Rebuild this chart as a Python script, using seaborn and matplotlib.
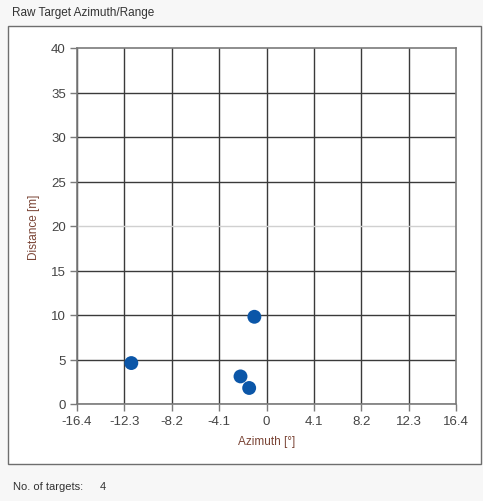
import matplotlib
matplotlib.use("Agg")
import matplotlib.pyplot as plt
import seaborn as sns
import pandas as pd
from matplotlib.patches import Rectangle

# target positions
azimuth = [-11.7, -1.05, -2.25, -1.5]
distance = [4.6, 9.8, 3.1, 1.8]
x_ticks = [-16.4, -12.3, -8.2, -4.1, 0, 4.1, 8.2, 12.3, 16.4]
x_labels = ["-16.4", "-12.3", "-8.2", "-4.1", "0", "4.1", "8.2", "12.3", "16.4"]
y_ticks = [0, 5, 10, 15, 20, 25, 30, 35, 40]
n_targets = len(azimuth)

df = pd.DataFrame({"azimuth": azimuth, "distance": distance})

sns.set_style("white")
plt.rcParams["font.family"] = ["Liberation Sans", "DejaVu Sans"]

fig = plt.figure(figsize=(4.83, 5.02), dpi=100)
fig.patch.set_facecolor("#f7f7f7")

# panel frame
fig.patches.append(Rectangle((8 / 483, 1 - 465 / 502), 473 / 483, (465 - 27) / 502,
                             transform=fig.transFigure, facecolor="white",
                             edgecolor="#6e6e6e", linewidth=1, zorder=-5))
fig.text(12 / 483, 1 - 13 / 502, "Raw Target Azimuth/Range", fontsize=8.5,
         color="#333333", va="center", ha="left")
fig.text(13 / 483, 1 - 487 / 502, "No. of targets:", fontsize=8,
         color="#333333", va="center", ha="left")
fig.text(100 / 483, 1 - 487 / 502, str(n_targets), fontsize=8,
         color="#333333", va="center", ha="left")

ax = fig.add_axes([77 / 483, 1 - 405 / 502, 379 / 483, 356 / 502])
ax.set_zorder(1)
ax.set_facecolor("white")
sns.scatterplot(data=df, x="azimuth", y="distance", ax=ax, color="#0b56a8",
                s=100, edgecolor="none", zorder=3)

ax.set_xlim(-16.4, 16.4)
ax.set_ylim(0, 40)
ax.set_xticks(x_ticks)
ax.set_xticklabels(x_labels)
ax.set_yticks(y_ticks)
ax.grid(True, color="#3a3a3a", linewidth=1)
ax.yaxis.get_gridlines()[4].set_color("#d0d0d0")
ax.yaxis.get_gridlines()[-1].set_visible(False)
ax.xaxis.get_gridlines()[-1].set_visible(False)
for side in ["left", "bottom", "top", "right"]:
    ax.spines[side].set_visible(True)
    ax.spines[side].set_color("#7a7a7a")
    ax.spines[side].set_linewidth(1.2)
ax.tick_params(axis="both", which="both", direction="out", length=5, width=1,
               color="#7a7a7a", labelsize=9.5, labelcolor="#444444", pad=3,
               bottom=True, left=True)
ax.set_xlabel("Azimuth [°]", fontsize=8.5, color="#7a4435", labelpad=6)
ax.set_ylabel("Distance [m]", fontsize=8.5, color="#7a4435", labelpad=8)

fig.savefig("out.png", dpi=100, facecolor=fig.get_facecolor())
